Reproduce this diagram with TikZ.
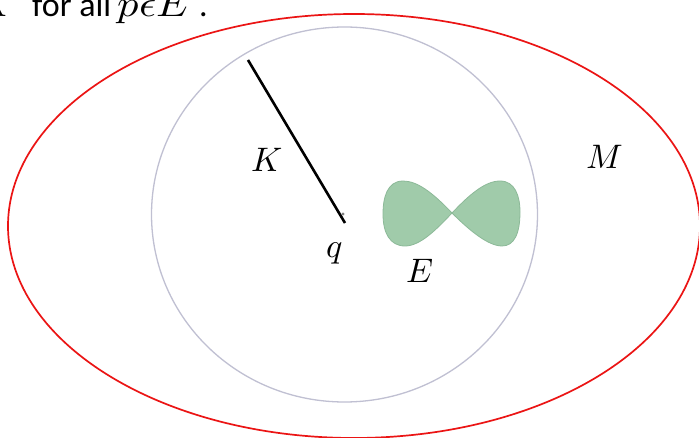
\documentclass[tikz,border=0pt]{standalone}
\usepackage{fontspec}
\usepackage{unicode-math}
\setmathfont{Latin Modern Math}
\newfontfamily\carlitofont{Carlito}
\definecolor{redline}{RGB}{235,20,20}
\definecolor{grayline}{RGB}{192,192,210}
\definecolor{bowfill}{RGB}{160,203,170}
\definecolor{bowedge}{RGB}{140,185,152}
\tikzset{
  lbl/.style={inner sep=0pt, font=\fontsize{34}{38}\selectfont},
  toptxt/.style={inner sep=0pt, font=\fontsize{34}{36}\selectfont\carlitofont},
  topmath/.style={inner sep=0pt, font=\fontsize{37}{39}\selectfont},
}
\begin{document}
\begin{tikzpicture}[x=1pt,y=-1pt]
\useasboundingbox (0,0) rectangle (699,438);
\fill[white] (0,0) rectangle (699,438);
% outer red ellipse M
\draw[redline, line width=1.7pt] (354,226) ellipse [x radius=346, y radius=212];
% inner gray circle
\draw[grayline, line width=1.3pt] (344.5,214.5) ellipse [x radius=193, y radius=187.5];
% bowtie E
\coordinate (c) at (452,213);
\draw[bowedge, fill=bowfill, line width=0.8pt]
  (c) .. controls (432,192) and (417,181) .. (403,181)
      .. controls (387,181) and (383,198) .. (383,214)
      .. controls (383,233) and (390,246) .. (405,246)
      .. controls (420,246) and (436,230) .. (c)
      .. controls (469,195) and (485,181) .. (500,181)
      .. controls (515,181) and (520,196) .. (520,212)
      .. controls (520,234) and (514,246) .. (502,246)
      .. controls (488,246) and (469,230) .. (c) -- cycle;
% radius segment
\coordinate (k1) at (248,60);
\coordinate (q) at (345,223);
\draw[black, line width=2.6pt] (k1) -- (q);
\fill[gray] (343,214) circle (1.6);
% labels
\node[lbl] (K) at (267,160) {$K$};
\node[lbl] (ql) at (335,253) {$q$};
\node[lbl] (E) at (420,271) {$E$};
\node[lbl] (M) at (605,157) {$M$};
% top text (cut off by the top edge)
\node[topmath, anchor=base east] (tK) at (14,17) {\scalebox{1.15}[1]{$K$}};
\node[toptxt, anchor=base west] (tfor) at (32,17) {for all};
\node[topmath, anchor=base west] (tpE) at (117,17) {\scalebox{1.15}[1]{$p\epsilon E$}};
\node[toptxt, anchor=base west] (tdot) at (199,17) {.};
\end{tikzpicture}
\end{document}
